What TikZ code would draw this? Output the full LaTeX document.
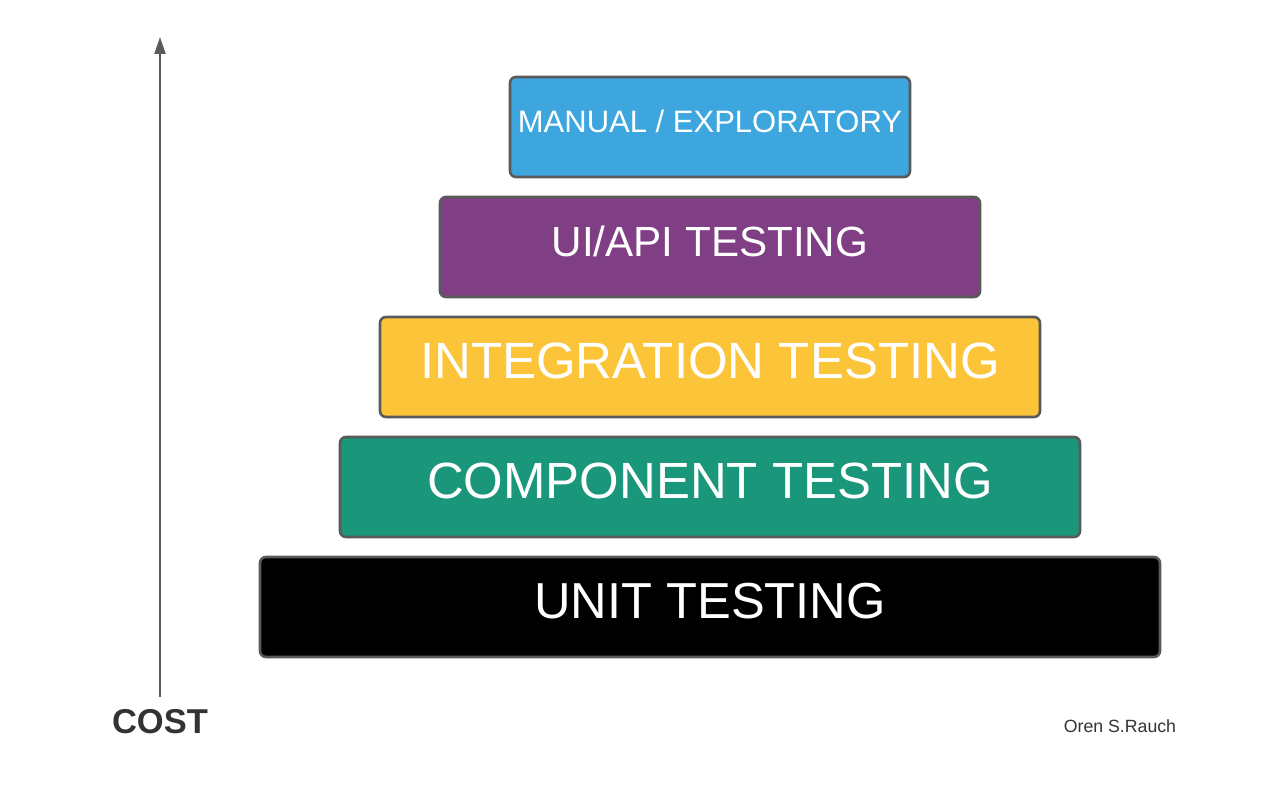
\documentclass[tikz,border=0pt]{standalone}
\usepackage{fontspec}
\setmainfont{Liberation Sans}
\usetikzlibrary{arrows.meta}
\definecolor{edgegray}{HTML}{5A5A5A}
\definecolor{tierblue}{HTML}{3DA6DE}
\definecolor{tierpurple}{HTML}{803F85}
\definecolor{tieryellow}{HTML}{FCC438}
\definecolor{tierteal}{HTML}{1A967B}
\definecolor{inkgray}{HTML}{333333}
\begin{document}
\begin{tikzpicture}[x=1pt,y=-1pt,
  tier/.style={draw=edgegray, line width=2.6pt, rounded corners=6pt,
    minimum height=100pt, inner sep=0pt, outer sep=0pt, text=white,
    anchor=north west, text depth=14pt},
  axis/.style={draw=edgegray, line width=2pt,
    -{Triangle[length=17pt,width=11pt]}}
]
\useasboundingbox[fill=white] (0,0) rectangle (1280,797);

% pyramid tiers, widest at the bottom
\node[tier, fill=tierblue, minimum width=400pt, text height=22.2pt,
  text depth=10.6pt, font=\fontsize{31}{36}\selectfont]
  (manual) at (510,77) {MANUAL / EXPLORATORY};
\node[tier, fill=tierpurple, minimum width=540pt, text height=30pt,
  text depth=12pt, font=\fontsize{42.2}{48}\selectfont]
  (uiapi) at (440,197) {UI/API TESTING};
\node[tier, fill=tieryellow, minimum width=660pt, text height=36.5pt,
  font=\fontsize{51}{60}\selectfont] (integ) at (380,317) {INTEGRATION TESTING};
\node[tier, fill=tierteal, minimum width=740pt, text height=36.5pt,
  font=\fontsize{50.9}{60}\selectfont] (comp) at (340,437) {COMPONENT TESTING};
\node[tier, fill=black, minimum width=900pt, text height=36.5pt,
  font=\fontsize{50.6}{60}\selectfont] (unit) at (260,557) {UNIT TESTING};

% cost axis
\node[font=\fontsize{34.5}{40}\selectfont\bfseries, text=inkgray,
  anchor=base, inner sep=0pt] (cost) at (160,733.5) {COST};
\coordinate (axisbot) at (160,697);
\coordinate (axistop) at (160,37);
\draw[axis] (axisbot) -- (axistop);

% author
\node[font=\fontsize{17.7}{21}\selectfont, text=inkgray, anchor=base,
  inner sep=0pt] (author) at (1120,732) {Oren S.Rauch};
\end{tikzpicture}
\end{document}
